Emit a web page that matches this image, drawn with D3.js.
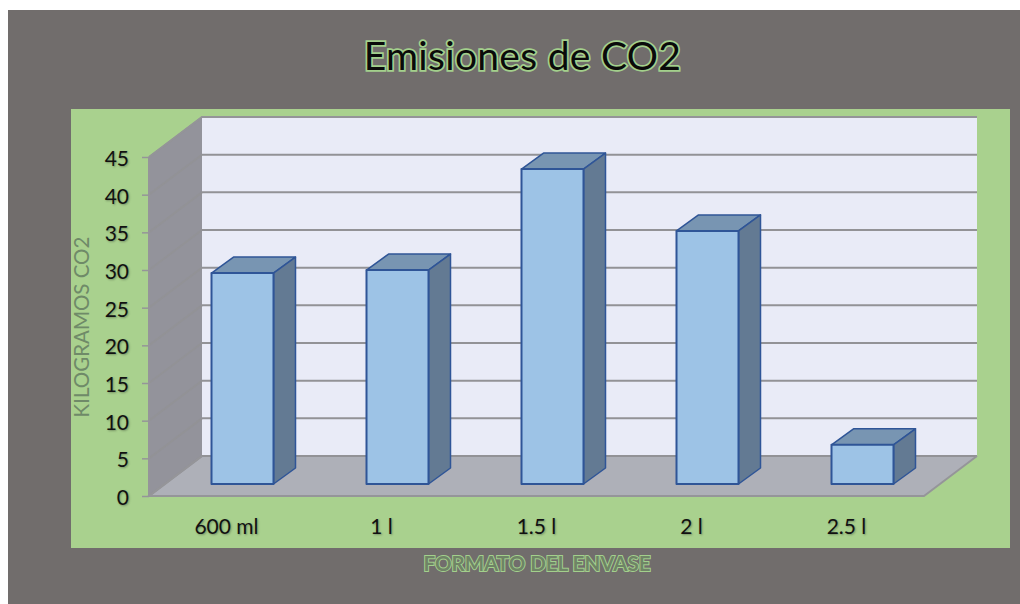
<!DOCTYPE html>
<html>
<head>
<meta charset="utf-8">
<script src="https://cdn.jsdelivr.net/npm/d3@7"></script>
<style>
  html, body { margin: 0; padding: 0; background: #fff; }
  svg { display: block; }
  text { font-family: Lato, "Open Sans", sans-serif; }
  .tick text { text-shadow: 1px 1px 2px rgba(60,70,50,.45); }
</style>
</head>
<body>
<svg width="1020" height="604"></svg>
<script>
var categories = ["600 ml", "1 l", "1.5 l", "2 l", "2.5 l"];
var values = [28.0, 28.4, 41.8, 33.6, 5.2];
var yTicks = [0, 5, 10, 15, 20, 25, 30, 35, 40, 45];

var svg = d3.select("svg");

// depth of the 3d box and of the bars, in px
var wallDx = 53, wallDy = -40;
var barDx = 22, barDy = -16;
var baseDx = 16, baseDy = -12;

var x = d3.scaleBand().domain(categories).range([149, 924])
    .paddingInner(0.6).paddingOuter(0.3);
var y = d3.scaleLinear().domain([0, 45]).range([496, 157]);

function poly(pts, fill, stroke, sw) {
  return svg.append("path")
      .attr("d", d3.line()(pts) + "Z")
      .attr("fill", fill)
      .attr("stroke", stroke || "none")
      .attr("stroke-width", sw || 0)
      .attr("stroke-linejoin", "round");
}

// page background and chart area
svg.append("rect").attr("x", 8).attr("y", 10).attr("width", 1012).attr("height", 594).attr("fill", "#716d6c");
svg.append("rect").attr("x", 71).attr("y", 109).attr("width", 939).attr("height", 439).attr("fill", "#a9d18e");

var x0 = x.range()[0], x1 = x.range()[1];
var yb = y(0), yt = y(45);

// back wall, side wall, floor
poly([[x0+wallDx, yt+wallDy], [x1+wallDx, yt+wallDy], [x1+wallDx, yb+wallDy], [x0+wallDx, yb+wallDy]], "#e9ebf7");
poly([[x0, yt], [x0+wallDx, yt+wallDy], [x0+wallDx, yb+wallDy], [x0, yb]], "#93939b");
poly([[x0, yb], [x0+wallDx, yb+wallDy], [x1+wallDx, yb+wallDy], [x1, yb]], "#aeb0b8");

// gridlines
yTicks.forEach(function(t) {
  svg.append("path")
      .attr("d", d3.line()([[x0, y(t)], [x0+wallDx, y(t)+wallDy], [x1+wallDx, y(t)+wallDy]]))
      .attr("fill", "none")
      .attr("stroke", "#929296")
      .attr("stroke-width", 2);
});
svg.append("path")
    .attr("d", d3.line()([[x0+wallDx, yb+wallDy], [x0, yb], [x1, yb], [x1+wallDx, yb+wallDy]]))
    .attr("fill", "none").attr("stroke", "#959599").attr("stroke-width", 2);
svg.append("line")
    .attr("x1", x0).attr("x2", x0).attr("y1", yb).attr("y2", yt)
    .attr("stroke", "#959599").attr("stroke-width", 2);
svg.append("path")
    .attr("d", d3.line()([[x0, yt], [x0+wallDx, yt+wallDy], [x1+wallDx, yt+wallDy]]))
    .attr("fill", "none").attr("stroke", "#959599").attr("stroke-width", 1.5);

// y axis
var yAxis = svg.append("g")
    .attr("transform", "translate(" + x0 + ",0)")
    .call(d3.axisLeft(y).tickValues(yTicks).tickSize(7).tickPadding(13));
yAxis.select(".domain").remove();
yAxis.selectAll("line").attr("stroke", "#959599").attr("stroke-width", 1.5);
yAxis.selectAll("text")
    .attr("font-size", 21)
    .attr("fill", "#111")
    .attr("dy", "0.4em")
    .style("font-family", "Lato, sans-serif");

// bars
categories.forEach(function(c, i) {
  var l = x(c) + baseDx, r = l + x.bandwidth();
  var b = yb + baseDy;
  var t = b - (y(0) - y(values[i]));
  poly([[l, t], [l+barDx, t+barDy], [r+barDx, t+barDy], [r, t]], "#7895b2", "#2f5597", 1.5);
  poly([[r, t], [r+barDx, t+barDy], [r+barDx, b+barDy], [r, b]], "#637a93", "#2f5597", 1.5);
  poly([[l, t], [r, t], [r, b], [l, b]], "#9dc3e6", "#2f5597", 2);
});

// category labels
var xAxis = svg.append("g")
    .attr("transform", "translate(0," + yb + ")")
    .call(d3.axisBottom(x).tickSize(0).tickPadding(23));
xAxis.select(".domain").remove();
xAxis.selectAll("text")
    .attr("font-size", 21)
    .attr("fill", "#111")
    .style("font-family", "Lato, sans-serif");

// titles
svg.append("text")
    .attr("x", 522.5).attr("y", 70)
    .attr("text-anchor", "middle")
    .attr("font-size", 39)
    .attr("letter-spacing", 0.3)
    .attr("fill", "#0a0a0a")
    .attr("stroke", "#a3d08c")
    .attr("stroke-width", 3.5)
    .attr("paint-order", "stroke")
    .text("Emisiones de CO2");

svg.append("text")
    .attr("transform", "translate(89,327) rotate(-90)")
    .attr("text-anchor", "middle")
    .attr("font-size", 20.5)
    .attr("fill", "#6f8a68")
    .text("KILOGRAMOS CO2");

svg.append("text")
    .attr("x", 537).attr("y", 571)
    .attr("text-anchor", "middle")
    .attr("font-size", 20.5)
    .attr("font-weight", 700)
    .attr("fill", "#6f8466")
    .attr("stroke", "#a3d08c")
    .attr("stroke-width", 2)
    .attr("paint-order", "stroke")
    .text("FORMATO DEL ENVASE");
</script>
</body>
</html>
